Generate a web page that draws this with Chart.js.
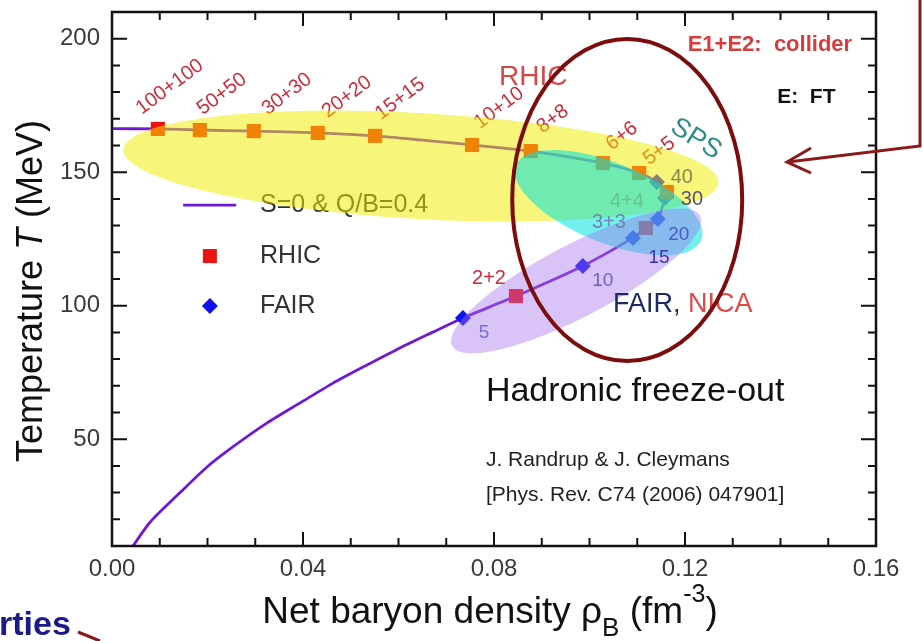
<!DOCTYPE html>
<html>
<head>
<meta charset="utf-8">
<title>Hadronic freeze-out</title>
<script src="https://cdn.jsdelivr.net/npm/chart.js@4.4.0/dist/chart.umd.min.js"></script>
<style>
  html, body { margin: 0; padding: 0; background: #fff; }
  #wrap { width: 922px; height: 641px; }
</style>
</head>
<body>
<div id="wrap"><canvas id="freezeout" width="922" height="641"></canvas></div>
<script>
// freeze-out curve, S=0 & Q/B=0.4 (rho_B in fm^-3, T in MeV)
const curveRho = [0.0044, 0.0080, 0.0142, 0.0199, 0.0253, 0.0325, 0.0394, 0.0463, 0.0534, 0.0603, 0.0672, 0.0735,
                  0.0846, 0.0986, 0.1091, 0.1118, 0.1143, 0.1158, 0.1162, 0.1141, 0.1104, 0.1028, 0.0877, 0.0754,
                  0.0645, 0.0551, 0.0431, 0.0297, 0.0184, 0.0096, 0.0000];
const curveT = [10.0, 19.0, 29.9, 39.6, 47.1, 56.1, 63.6, 71.0, 77.8, 84.2, 90.1, 95.4,
                103.6, 114.9, 125.4, 129.1, 132.5, 140.3, 142.6, 146.3, 149.7, 153.4, 157.9, 160.2,
                162.1, 163.6, 164.7, 165.4, 165.8, 166.2, 166.3];

// RHIC collider energies
const rhicNames = ['100+100', '50+50', '30+30', '20+20', '15+15', '10+10', '8+8', '6+6', '5+5', '4+4', '3+3', '2+2'];
const rhicRho = [0.0096, 0.0184, 0.0297, 0.0431, 0.0551, 0.0754, 0.0877, 0.1028, 0.1104, 0.1162, 0.1118, 0.0846];
const rhicT = [166.2, 165.8, 165.4, 164.7, 163.6, 160.2, 157.9, 153.4, 149.7, 142.6, 129.1, 103.6];

// FAIR fixed target energies
const fairNames = ['5', '10', '15', '20', '30', '40'];
const fairRho = [0.0735, 0.0986, 0.1091, 0.1143, 0.1158, 0.1141];
const fairT = [95.4, 114.9, 125.4, 132.5, 140.3, 146.3];

const xTickVals = [0, 0.04, 0.08, 0.12, 0.16];
const yTickVals = [50, 100, 150, 200];

const FONT = "'Liberation Sans', Arial, Helvetica, sans-serif";

// label offsets (px) from the marker
const rhicLabelOff = [[12, -42], [22, -36], [33, -37], [29, -36], [25, -37], [27, -37], [22, -32], [19, -27], [20, -22], [-40, 10], [-37, -6], [-27, -18]];
const fairLabelOff = [[21, 15], [20, 15], [26, 20], [21, 16], [27, 1], [25, -5]];

function toPx(chart, x, y) {
    return [chart.scales.x.getPixelForValue(x), chart.scales.y.getPixelForValue(y)];
}

function drawText(ctx, str, x, y, o) {
    ctx.save();
    ctx.translate(x, y);
    if (o.rot) ctx.rotate(o.rot * Math.PI / 180);
    ctx.font = (o.weight || 'normal') + ' ' + o.size + 'px ' + FONT;
    ctx.fillStyle = o.color;
    ctx.textAlign = o.align || 'center';
    ctx.textBaseline = 'middle';
    ctx.fillText(str, 0, 0);
    ctx.restore();
}

function textAt(chart, str, x, y, o) {
    const p = toPx(chart, x, y);
    drawText(chart.ctx, str, p[0], p[1], o);
}

function drawEllipse(chart, e) {
    const ctx = chart.ctx;
    const p = toPx(chart, e.x, e.y);
    ctx.save();
    ctx.beginPath();
    ctx.ellipse(p[0], p[1], e.rx, e.ry, e.rot * Math.PI / 180, 0, Math.PI * 2);
    if (e.fill) { ctx.fillStyle = e.fill; ctx.fill(); }
    if (e.stroke) { ctx.lineWidth = e.lw; ctx.strokeStyle = e.stroke; ctx.stroke(); }
    ctx.restore();
}

const overlayPlugin = {
    id: 'overlay',
    afterDatasetsDraw(chart) {
        const ctx = chart.ctx;
        const red = '#cc2a3a';

        // legend (sits under the yellow band)
        let a = toPx(chart, 0.0149, 137.7), b = toPx(chart, 0.0260, 137.7);
        ctx.save();
        ctx.strokeStyle = '#7019d2';
        ctx.lineWidth = 2.8;
        ctx.beginPath(); ctx.moveTo(a[0], a[1]); ctx.lineTo(b[0], b[1]); ctx.stroke();
        let s = toPx(chart, 0.0205, 118.6);
        ctx.fillStyle = '#f01010';
        ctx.fillRect(s[0] - 7, s[1] - 7, 14, 14);
        let d = toPx(chart, 0.0205, 99.9);
        ctx.fillStyle = '#1010ee';
        ctx.beginPath();
        ctx.moveTo(d[0], d[1] - 8); ctx.lineTo(d[0] + 8, d[1]); ctx.lineTo(d[0], d[1] + 8); ctx.lineTo(d[0] - 8, d[1]);
        ctx.closePath(); ctx.fill();
        ctx.restore();
        textAt(chart, 'S=0 & Q/B=0.4', 0.0310, 137.7, { size: 25, color: '#333', align: 'left' });
        textAt(chart, 'RHIC', 0.0310, 118.6, { size: 25, color: '#333', align: 'left' });
        textAt(chart, 'FAIR', 0.0310, 99.9, { size: 25, color: '#333', align: 'left' });

        // collider labels
        rhicNames.forEach((n, i) => {
            if (n === '4+4' || n === '3+3') return;
            const p = toPx(chart, rhicRho[i], rhicT[i]);
            const o = rhicLabelOff[i];
            const rot = n === '2+2' ? 0 : -37;
            drawText(ctx, n, p[0] + o[0], p[1] + o[1], { size: 20, color: red, rot: rot });
        });
        textAt(chart, 'RHIC', 0.0882, 185.7, { size: 28, color: '#d84646' });

        // shaded regions
        drawEllipse(chart, { x: 0.0647, y: 152.3, rx: 298, ry: 53, rot: 3.2, fill: 'rgba(240,235,0,0.52)' });
        drawEllipse(chart, { x: 0.1040, y: 138.6, rx: 100, ry: 40, rot: 22, fill: 'rgba(0,228,222,0.55)' });
        drawEllipse(chart, { x: 0.0972, y: 109.3, rx: 140, ry: 36, rot: -27.7, fill: 'rgba(165,115,235,0.42)' });

        // labels inside the shaded regions
        const i44 = rhicNames.indexOf('4+4'), i33 = rhicNames.indexOf('3+3');
        let p = toPx(chart, rhicRho[i44], rhicT[i44]);
        drawText(ctx, '4+4', p[0] + rhicLabelOff[i44][0], p[1] + rhicLabelOff[i44][1], { size: 20, color: '#66c48e' });
        p = toPx(chart, rhicRho[i33], rhicT[i33]);
        drawText(ctx, '3+3', p[0] + rhicLabelOff[i33][0], p[1] + rhicLabelOff[i33][1], { size: 20, color: '#6a88b0' });
        const fairCol = ['#7a70d0', '#6a64c0', '#3a36b0', '#4a5ac8', '#545478', '#8a8848'];
        fairNames.forEach((n, i) => {
            const q = toPx(chart, fairRho[i], fairT[i]);
            const o = fairLabelOff[i];
            drawText(ctx, n, q[0] + o[0], q[1] + o[1], { size: i >= 4 ? 20 : 19, color: fairCol[i] });
        });
        textAt(chart, 'SPS', 0.1223, 162.4, { size: 27, color: '#2e8c88', rot: 32 });

        // FAIR, NICA
        p = toPx(chart, 0.1049, 100.6);
        ctx.save();
        ctx.font = '27px ' + FONT;
        ctx.textBaseline = 'middle';
        ctx.fillStyle = '#1c2a66';
        ctx.fillText('FAIR, ', p[0], p[1]);
        const w = ctx.measureText('FAIR, ').width;
        ctx.fillStyle = '#e04848';
        ctx.fillText('NICA', p[0] + w, p[1]);
        ctx.restore();

        textAt(chart, 'Hadronic freeze-out', 0.0783, 67.7, { size: 34, color: '#111', align: 'left' });
        textAt(chart, 'J. Randrup & J. Cleymans', 0.0783, 42.2, { size: 21, color: '#222', align: 'left' });
        textAt(chart, '[Phys. Rev. C74 (2006) 047901]', 0.0783, 29.1, { size: 21, color: '#222', align: 'left' });
        textAt(chart, 'E1+E2:  collider', 0.1550, 197.6, { size: 22, weight: 'bold', color: '#d83c3c', align: 'right' });
        textAt(chart, 'E:  FT', 0.1393, 178.2, { size: 21, weight: 'bold', color: '#111', align: 'left' });

        // highlight ring
        drawEllipse(chart, { x: 0.1079, y: 139.6, rx: 115, ry: 161, rot: 0, stroke: '#7d0c0c', lw: 4 });
    },
    afterDraw(chart) {
        const ctx = chart.ctx;
        const ca = chart.chartArea;
        const xs = chart.scales.x, ys = chart.scales.y;

        // frame and inward ticks on all four sides
        ctx.save();
        ctx.strokeStyle = '#111';
        ctx.lineWidth = 2.5;
        ctx.strokeRect(ca.left, ca.top, ca.right - ca.left, ca.bottom - ca.top);
        ctx.lineWidth = 2;
        ctx.beginPath();
        for (let k = 1; k < 16; k++) {
            const v = k / 100;
            const x = xs.getPixelForValue(v);
            const len = (k % 4 === 0) ? 14 : 8;
            ctx.moveTo(x, ca.bottom); ctx.lineTo(x, ca.bottom - len);
            ctx.moveTo(x, ca.top); ctx.lineTo(x, ca.top + len);
        }
        for (let v = 20; v <= 200; v += 10) {
            const y = ys.getPixelForValue(v);
            const len = (v % 50 === 0) ? 15 : 8;
            ctx.moveTo(ca.left, y); ctx.lineTo(ca.left + len, y);
            ctx.moveTo(ca.right, y); ctx.lineTo(ca.right - len, y);
        }
        ctx.stroke();
        ctx.restore();

        // y title
        ctx.save();
        ctx.translate(42, (ca.top + ca.bottom) / 2 + 12);
        ctx.rotate(-Math.PI / 2);
        ctx.fillStyle = '#111';
        ctx.textBaseline = 'alphabetic';
        const parts = [['Temperature ', '36px ' + FONT], ['T', 'italic 36px ' + FONT], [' (MeV)', '36px ' + FONT]];
        let tw = 0;
        parts.forEach(q => { ctx.font = q[1]; tw += ctx.measureText(q[0]).width; });
        let cx = -tw / 2;
        parts.forEach(q => { ctx.font = q[1]; ctx.fillText(q[0], cx, 0); cx += ctx.measureText(q[0]).width; });
        ctx.restore();

        // x title with sub/superscript
        ctx.save();
        ctx.fillStyle = '#111';
        ctx.textBaseline = 'alphabetic';
        const xp = [['Net baryon density \u03C1', 37, 0], ['B', 26, 13], [' (fm', 37, 0], ['-3', 25, -21], [')', 37, 0]];
        tw = 0;
        xp.forEach(q => { ctx.font = q[1] + 'px ' + FONT; tw += ctx.measureText(q[0]).width; });
        cx = (ca.left + ca.right) / 2 - 4 - tw / 2;
        xp.forEach(q => { ctx.font = q[1] + 'px ' + FONT; ctx.fillText(q[0], cx, 623 + q[2]); cx += ctx.measureText(q[0]).width; });
        ctx.restore();

        // slide remnants around the figure
        ctx.save();
        ctx.font = 'bold 34px ' + FONT;
        ctx.fillStyle = '#1a1a8a';
        ctx.textBaseline = 'alphabetic';
        ctx.fillText('rties', -1, 635);
        ctx.strokeStyle = '#8b1a1a';
        ctx.lineWidth = 3;
        ctx.beginPath(); ctx.moveTo(78, 632); ctx.lineTo(100, 641); ctx.stroke();
        // arrow from the note box
        ctx.beginPath();
        ctx.moveTo(920, 0); ctx.lineTo(920, 146); ctx.lineTo(788, 162);
        ctx.stroke();
        ctx.beginPath();
        ctx.moveTo(811, 148); ctx.lineTo(787, 162); ctx.lineTo(811, 173);
        ctx.stroke();
        ctx.restore();
    }
};

const ctx = document.getElementById('freezeout').getContext('2d');
const freezeChart = new Chart(ctx, {
    type: 'scatter',
    data: {
        datasets: [{
            label: 'RHIC',
            data: rhicRho.map((x, i) => ({ x: x, y: rhicT[i] })),
            pointStyle: 'rect',
            pointRadius: 10,
            backgroundColor: '#f01010',
            borderWidth: 0,
            order: 1
        }, {
            label: 'FAIR',
            data: fairRho.map((x, i) => ({ x: x, y: fairT[i] })),
            pointStyle: 'rectRot',
            pointRadius: 8,
            backgroundColor: '#1010ee',
            borderWidth: 0,
            order: 2
        }, {
            label: 'S=0 & Q/B=0.4',
            data: curveRho.map((x, i) => ({ x: x, y: curveT[i] })),
            showLine: true,
            borderColor: '#7019d2',
            borderWidth: 2.8,
            pointRadius: 0,
            tension: 0.25,
            order: 3
        }]
    },
    options: {
        responsive: false,
        animation: false,
        layout: { padding: { left: 0, top: 12, right: 46, bottom: 0 } },
        plugins: {
            legend: { display: false },
            tooltip: { enabled: false }
        },
        scales: {
            x: {
                type: 'linear',
                min: 0,
                max: 0.16,
                afterBuildTicks: s => { s.ticks = xTickVals.map(v => ({ value: v })); },
                afterFit: s => { s.height = 95; s.paddingLeft = 0; s.paddingRight = 0; },
                ticks: {
                    callback: v => v.toFixed(2),
                    font: { family: FONT, size: 24 },
                    color: '#3a3a3a',
                    padding: 9,
                    maxRotation: 0
                },
                grid: { display: false, drawTicks: false },
                border: { display: false }
            },
            y: {
                type: 'linear',
                min: 10,
                max: 210,
                afterBuildTicks: s => { s.ticks = yTickVals.map(v => ({ value: v })); },
                afterFit: s => { s.width = 112; s.paddingTop = 0; s.paddingBottom = 0; },
                ticks: {
                    font: { family: FONT, size: 24 },
                    color: '#3a3a3a',
                    padding: 12
                },
                grid: { display: false, drawTicks: false },
                border: { display: false }
            }
        }
    },
    plugins: [overlayPlugin]
});
</script>
</body>
</html>
